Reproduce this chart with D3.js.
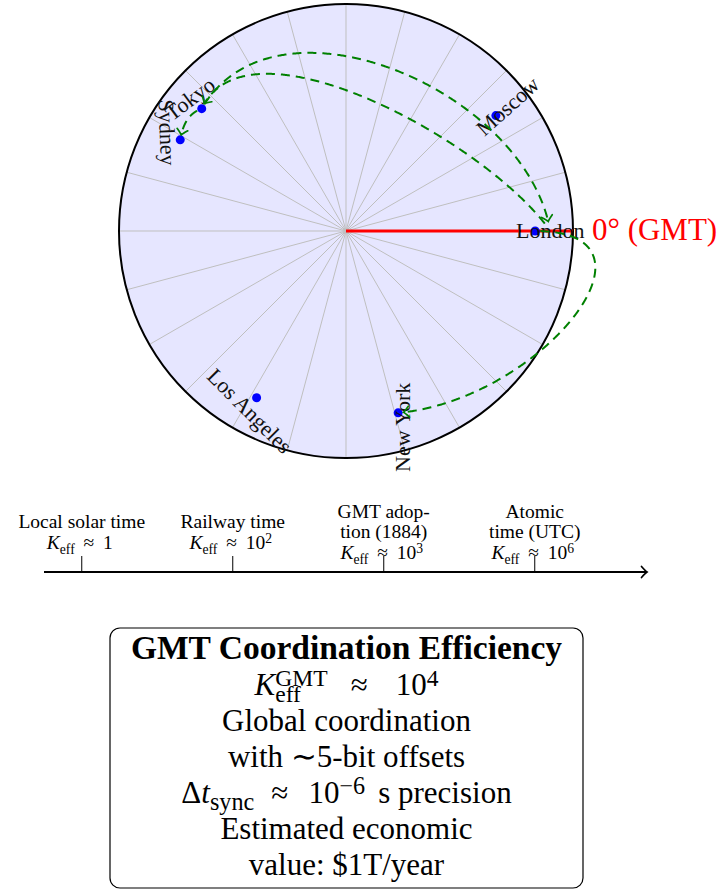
<!DOCTYPE html>
<html lang="en">
<head>
<meta charset="UTF-8">
<title>GMT coordination</title>
<script src="https://cdn.jsdelivr.net/npm/d3@7"></script>
<style>
  body { margin: 0; background: #fff; }
  svg { display: block; font-family: 'Liberation Serif', 'Times New Roman', serif; }
</style>
</head>
<body>
<script>
// cities on the clock face, longitude in degrees east of Greenwich
var cityNames = ['London', 'Moscow', 'Tokyo', 'Sydney', 'Los Angeles', 'New York'];
var cityLon = [0, 37.6, 139.7, 151.2, -118.2, -74.0];
var cityLabelTilt = [0, 42, 37, -88, -45, 90];

// dashed sync links: from, to, out angle, in angle, looseness
var linkFrom = ['Tokyo', 'London', 'Tokyo', 'London'];
var linkTo = ['London', 'Tokyo', 'Sydney', 'New York'];
var linkOut = [60, 125, 200, 0];
var linkIn = [100, 65, 80, 5];
var linkLoose = [1, 0.75, 1, 1.6];
var linkFromLabel = [false, true, false, false];
var linkToLabel = [true, false, false, false];

// timeline of eras, K_eff ~ 10^exp
var eraLines = [['Local solar time'], ['Railway time'], ['GMT adop-', 'tion (1884)'], ['Atomic', 'time (UTC)']];
var eraKexp = [0, 2, 3, 6];

var W = 717, H = 892;
var svg = d3.select('body').append('svg').attr('width', W).attr('height', H);

var green = '#008000';
var defs = svg.append('defs');
function arrowMarker(id, color) {
  defs.append('marker')
    .attr('id', id)
    .attr('viewBox', '-8 -8 16 16')
    .attr('markerWidth', 16).attr('markerHeight', 16)
    .attr('markerUnits', 'userSpaceOnUse')
    .attr('refX', 0).attr('refY', 0)
    .attr('orient', 'auto')
    .append('path')
    .attr('d', 'M-5.5,-5.5 Q-1.5,-1 0,0 Q-1.5,1 -5.5,5.5')
    .attr('fill', 'none')
    .attr('stroke', color)
    .attr('stroke-width', 1.7)
    .attr('stroke-linecap', 'round');
}
arrowMarker('arrG', green);
arrowMarker('arrK', '#000');

// ---- clock face ----
var cx = 346, cy = 231;
var r = d3.scaleLinear().domain([0, 3]).range([0, 227]);
function polar(deg, rad) {
  var a = deg * Math.PI / 180;
  return [cx + r(rad) * Math.cos(a), cy - r(rad) * Math.sin(a)];
}

var face = svg.append('g');
face.append('circle').attr('cx', cx).attr('cy', cy).attr('r', r(3)).attr('fill', '#e6e6ff');
face.selectAll('line.spoke')
  .data(d3.range(0, 360, 15))
  .enter().append('line')
  .attr('class', 'spoke')
  .attr('x1', cx).attr('y1', cy)
  .attr('x2', function(d){ return polar(d, 3)[0]; })
  .attr('y2', function(d){ return polar(d, 3)[1]; })
  .attr('stroke', '#bfbfbf').attr('stroke-width', 1);
face.append('circle').attr('cx', cx).attr('cy', cy).attr('r', r(3))
  .attr('fill', 'none').attr('stroke', '#000').attr('stroke-width', 2);
face.append('line')
  .attr('x1', cx).attr('y1', cy)
  .attr('x2', polar(0, 3)[0]).attr('y2', polar(0, 3)[1])
  .attr('stroke', 'red').attr('stroke-width', 3.2);
face.append('text')
  .attr('x', polar(0, 3)[0] + 19).attr('y', cy + 9)
  .attr('fill', 'red').attr('font-size', 31)
  .text('0\u00b0 (GMT)');

var cities = cityNames.map(function(n, i){
  return {name: n, lon: cityLon[i], tilt: cityLabelTilt[i]};
});
var byName = {};
cities.forEach(function(c){ byName[c.name] = c; });

svg.selectAll('circle.city')
  .data(cities)
  .enter().append('circle')
  .attr('class', 'city')
  .attr('cx', function(d){ return polar(d.lon, 2.5)[0]; })
  .attr('cy', function(d){ return polar(d.lon, 2.5)[1]; })
  .attr('r', 4.5)
  .attr('fill', '#0000ff');

svg.selectAll('text.city')
  .data(cities)
  .enter().append('text')
  .attr('class', 'city')
  .attr('transform', function(d){
    var p = polar(d.lon, 2.7);
    return 'translate(' + p[0] + ',' + p[1] + ') rotate(' + (-d.tilt) + ')';
  })
  .attr('text-anchor', 'middle')
  .attr('dy', '0.33em')
  .attr('font-size', 22)
  .attr('fill', '#111')
  .text(function(d){ return d.name; });

// ---- links (tikz style to[out,in,looseness]) ----
function bez(p, t) {
  var u = 1 - t;
  var a = u*u*u, b = 3*u*u*t, c = 3*u*t*t, e = t*t*t;
  return [a*p[0][0] + b*p[1][0] + c*p[2][0] + e*p[3][0],
          a*p[0][1] + b*p[1][1] + c*p[2][1] + e*p[3][1]];
}
function dist(a, b) { return Math.hypot(a[0] - b[0], a[1] - b[1]); }

var links = linkFrom.map(function(f, i){
  var A = polar(byName[f].lon, linkFromLabel[i] ? 2.7 : 2.5);
  var B = polar(byName[linkTo[i]].lon, linkToLabel[i] ? 2.7 : 2.5);
  var L = 0.3915 * dist(A, B) * linkLoose[i];
  var o = linkOut[i] * Math.PI / 180, n = linkIn[i] * Math.PI / 180;
  var P = [A, [A[0] + L*Math.cos(o), A[1] - L*Math.sin(o)],
           [B[0] + L*Math.cos(n), B[1] - L*Math.sin(n)], B];
  var trimA = linkFromLabel[i] ? 9 : 5, trimB = linkToLabel[i] ? 9 : 5;
  var pts = d3.range(0, 401).map(function(k){ return bez(P, k / 400); });
  pts = pts.filter(function(q){ return dist(q, A) >= trimA && dist(q, B) >= trimB; });
  return pts;
});

svg.selectAll('path.link')
  .data(links)
  .enter().append('path')
  .attr('class', 'link')
  .attr('d', d3.line())
  .attr('fill', 'none')
  .attr('stroke', green)
  .attr('stroke-width', 2)
  .attr('stroke-dasharray', '9 6')
  .attr('marker-end', 'url(#arrG)');

// ---- math-ish line layout ----
function mathLine(parent, pieces, x, y, size, script, raise) {
  var g = parent.append('g');
  var cur = 0;
  function put(txt, fs, dy, italic, bold) {
    var t = g.append('text').attr('x', cur).attr('y', dy)
      .attr('font-size', fs)
      .attr('font-style', italic ? 'italic' : null)
      .attr('font-weight', bold ? 'bold' : null)
      .text(txt);
    return t.node().getComputedTextLength();
  }
  pieces.forEach(function(p){
    if (p.gap) { cur += p.gap * size; return; }
    if (p.sup !== undefined || p.sub !== undefined) {
      var w1 = 0, w2 = 0;
      if (p.sup !== undefined) w1 = put(p.sup, size * script, -raise * size);
      if (p.sub !== undefined) w2 = put(p.sub, size * script, 0.24 * size);
      cur += Math.max(w1, w2);
      return;
    }
    cur += put(p.t, size, 0, p.it, p.bold);
  });
  g.attr('transform', 'translate(' + (x - cur / 2) + ',' + y + ')');
  return g;
}

// ---- timeline ----
var tx = d3.scaleLinear().domain([-0.25, 3.75]).range([44, 648]);
var axisY = 572;
var tl = svg.append('g');
tl.append('line')
  .attr('x1', tx(-0.25)).attr('x2', tx(3.75) - 1)
  .attr('y1', axisY).attr('y2', axisY)
  .attr('stroke', '#000').attr('stroke-width', 1.8)
  .attr('marker-end', 'url(#arrK)');
tl.selectAll('line.tick')
  .data(eraKexp)
  .enter().append('line')
  .attr('class', 'tick')
  .attr('x1', function(d, i){ return tx(i); })
  .attr('x2', function(d, i){ return tx(i); })
  .attr('y1', axisY).attr('y2', axisY - 16)
  .attr('stroke', '#000').attr('stroke-width', 1);

var eraSize = 19.5, eraStep = 20, eraMid = 538;
eraLines.forEach(function(lines, i){
  var n = lines.length + 1;
  lines.forEach(function(s, j){
    tl.append('text')
      .attr('x', tx(i)).attr('y', eraMid + (j - (n - 1) / 2) * eraStep)
      .attr('text-anchor', 'middle')
      .attr('font-size', eraSize)
      .text(s);
  });
  var k = [{t: 'K', it: true}, {sub: 'eff'}, {gap: 0.45}, {t: '\u2248'}, {gap: 0.45}];
  if (eraKexp[i] === 0) k.push({t: '1'});
  else { k.push({t: '10'}); k.push({sup: String(eraKexp[i])}); }
  mathLine(tl, k, tx(i) - 2, eraMid + (n - 1) / 2 * eraStep + 1, eraSize, 0.7, 0.3);
});

// ---- summary box ----
var box = svg.append('g');
box.append('rect')
  .attr('x', 110).attr('y', 628).attr('width', 473).attr('height', 260)
  .attr('rx', 10).attr('ry', 10)
  .attr('fill', '#fff').attr('stroke', '#000').attr('stroke-width', 1.2);

var bx = 346.5, bSize = 31, bTop = 659, bStep = 36;
box.append('text')
  .attr('x', bx).attr('y', bTop)
  .attr('text-anchor', 'middle')
  .attr('font-size', 33.5).attr('font-weight', 'bold')
  .text('GMT Coordination Efficiency');
mathLine(box, [{t: 'K', it: true}, {sup: 'GMT', sub: 'eff'}, {gap: 0.75}, {t: '\u2248'},
               {gap: 0.9}, {t: '10'}, {sup: '4'}], bx, bTop + bStep, bSize, 0.76, 0.3);
[['Global coordination', 2], ['with \u223c5-bit offsets', 3],
 ['Estimated economic', 5], ['value: $1T/year', 6]].forEach(function(d){
  box.append('text')
    .attr('x', bx).attr('y', bTop + d[1] * bStep)
    .attr('text-anchor', 'middle')
    .attr('font-size', bSize)
    .text(d[0]);
});
mathLine(box, [{t: '\u0394'}, {t: 't', it: true}, {sub: 'sync'}, {gap: 0.55}, {t: '\u2248'},
               {gap: 0.65}, {t: '10'}, {sup: '\u22126'}, {gap: 0.42}, {t: 's precision'}],
         bx, bTop + 4 * bStep, bSize, 0.78, 0.3);
</script>
</body>
</html>
